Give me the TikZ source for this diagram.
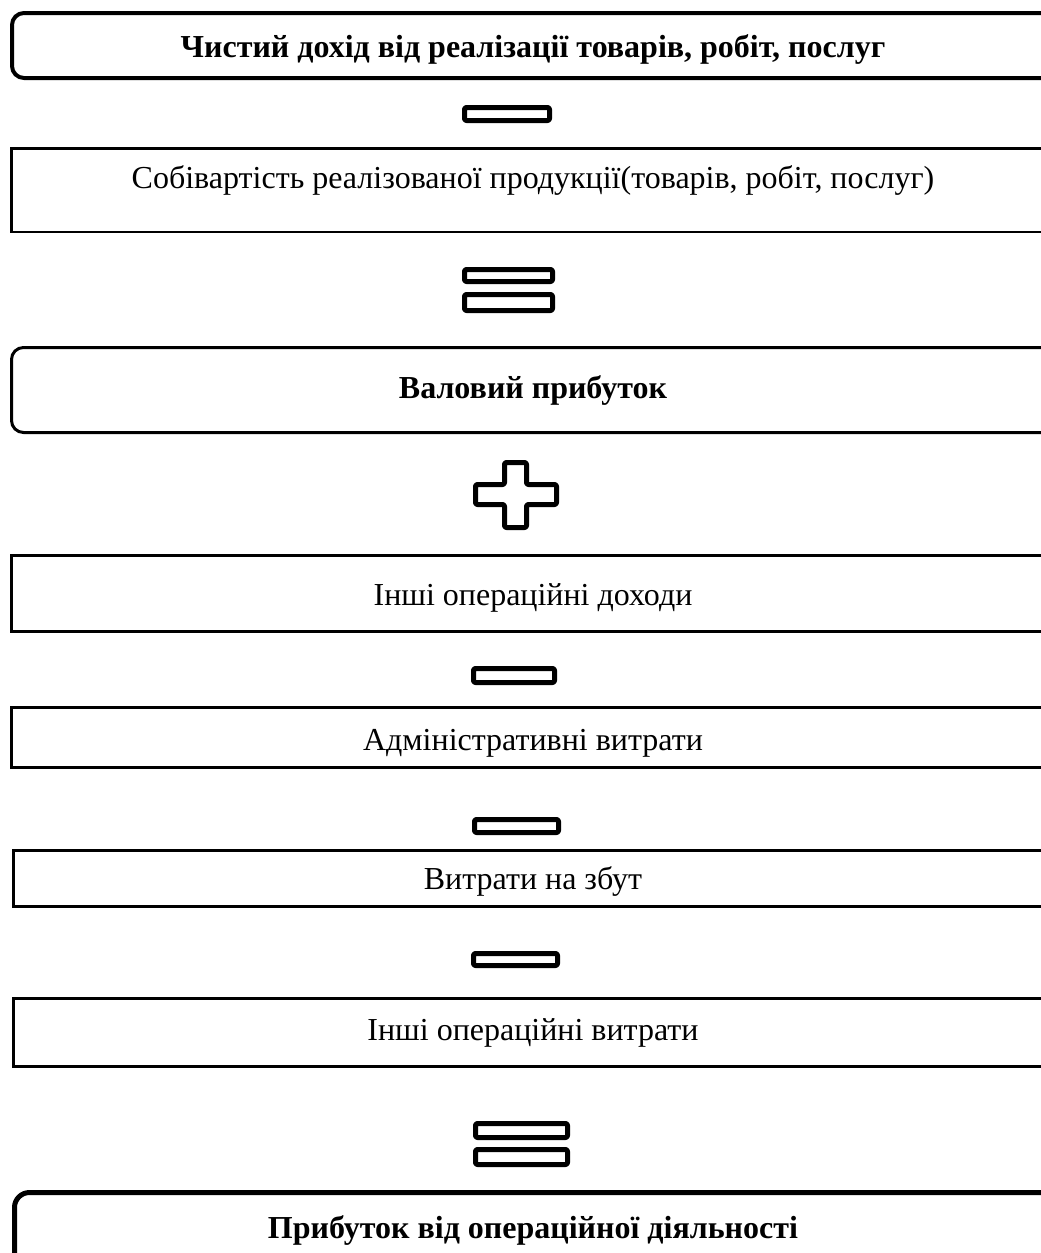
\documentclass[tikz,border=0pt]{standalone}
\usepackage{fontspec}
\setmainfont{Liberation Serif}
\begin{document}
\begin{tikzpicture}[x=1pt,y=-1pt,
  boxbase/.style={draw=black, anchor=north west, inner sep=0pt, outer sep=0pt, minimum width=1046pt},
  roundbox/.style={boxbase, rounded corners=12pt},
  plainbox/.style={boxbase},
  lbl/.style={anchor=base, inner sep=0pt, font=\fontsize{32}{38}\selectfont},
  blbl/.style={lbl, font=\fontsize{32}{38}\selectfont\bfseries},
  signline/.style={draw=black, line width=5pt, rounded corners=2pt, line join=round}
]
\useasboundingbox (0,0) rectangle (1041,1253);
\clip (0,0) rectangle (1041,1253);

% boxes
\node[roundbox, line width=4pt, minimum height=65pt] (b1) at (12,13) {};
\node[plainbox, line width=2.5pt, minimum height=83.5pt] (b2) at (11.25,148.25) {};
\node[roundbox, line width=3pt, minimum height=85pt] (b3) at (11.5,347.5) {};
\node[plainbox, line width=3pt, minimum height=76pt] (b4) at (11.5,555.5) {};
\node[plainbox, line width=3pt, minimum height=60pt] (b5) at (11.5,707.5) {};
\node[plainbox, line width=3pt, minimum height=56pt] (b6) at (13.5,850.5) {};
\node[plainbox, line width=3pt, minimum height=68pt] (b7) at (13.5,998.5) {};
\node[roundbox, line width=5pt, rounded corners=15pt, minimum height=100pt] (b8) at (14.5,1192.5) {};

% texts
\node[blbl] (t1) at (533,57) {Чистий дохід від реалізації товарів, робіт, послуг};
\node[lbl] (t2) at (533,188) {Собівартість реалізованої продукції(товарів, робіт, послуг)};
\node[blbl] (t3) at (533,398) {Валовий прибуток};
\node[lbl] (t4) at (533,605) {Інші операційні доходи};
\node[lbl] (t5) at (533,750) {Адміністративні витрати};
\node[lbl] (t6) at (533,889) {Витрати на збут};
\node[lbl] (t7) at (533,1040) {Інші операційні витрати};
\node[blbl] (t8) at (533,1238) {Прибуток від операційної діяльності};

% signs
% minus 1
\draw[signline] (464.5,107.5) rectangle (549.5,120.5);
% equals 1
\draw[signline] (464.5,269.5) rectangle (552.5,281.5);
\draw[signline] (464.5,294.5) rectangle (552.5,310.5);
% plus
\draw[signline] (504.5,462.5) -- (526.5,462.5) -- (526.5,484.5) -- (556.5,484.5) -- (556.5,504.5)
  -- (526.5,504.5) -- (526.5,527.5) -- (504.5,527.5) -- (504.5,504.5) -- (475.5,504.5)
  -- (475.5,484.5) -- (504.5,484.5) -- cycle;
% minus 2
\draw[signline] (473.5,668.5) rectangle (554.5,682.5);
% minus 3
\draw[signline] (474.5,819.5) rectangle (558.5,832.5);
% minus 4
\draw[signline] (473.5,953.5) rectangle (557.5,965.5);
% equals 2
\draw[signline] (475.5,1123.5) rectangle (567.5,1137.5);
\draw[signline] (475.5,1149.5) rectangle (567.5,1164.5);
\end{tikzpicture}
\end{document}
